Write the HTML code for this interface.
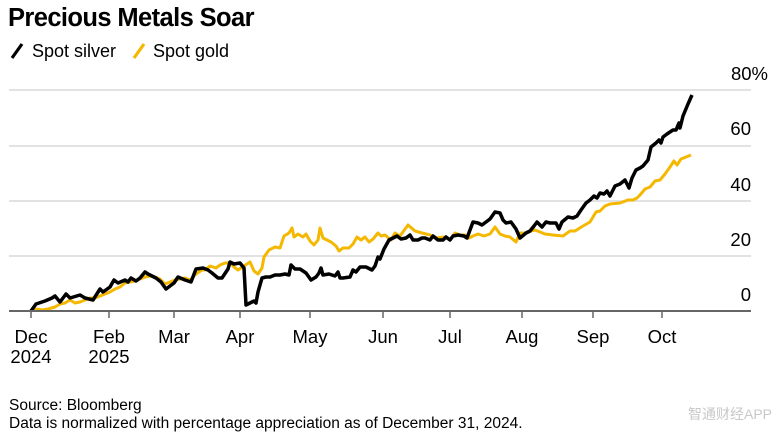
<!DOCTYPE html>
<html><head><meta charset="utf-8"><style>
body{margin:0;background:#fff;width:778px;height:437px;overflow:hidden;font-family:"Liberation Sans","Noto Sans CJK SC",sans-serif;}
svg text{font-family:"Liberation Sans","Noto Sans CJK SC",sans-serif;}
</style></head><body>
<svg width="778" height="437" viewBox="0 0 778 437" xmlns="http://www.w3.org/2000/svg">
<text x="8" y="26" font-size="25.5" font-weight="bold" fill="#000" letter-spacing="-0.6">Precious Metals Soar</text>
<line x1="12" y1="58" x2="22" y2="44" stroke="#000" stroke-width="3.2"/>
<text x="32" y="57" font-size="18" fill="#000">Spot silver</text>
<line x1="134" y1="58" x2="144" y2="44" stroke="#f5b800" stroke-width="3.2"/>
<text x="153" y="57" font-size="18" fill="#000">Spot gold</text>
<g stroke="#d8d8d8" stroke-width="1.5">
<line x1="9" y1="90" x2="751" y2="90"/><line x1="9" y1="146" x2="751" y2="146"/><line x1="9" y1="201" x2="751" y2="201"/><line x1="9" y1="256" x2="751" y2="256"/>
</g>
<g font-size="18.5" fill="#000" text-anchor="end">
<text x="768" y="80">80%</text><text x="751" y="135">60</text><text x="751" y="191">40</text><text x="751" y="246">20</text><text x="751" y="301">0</text>
</g>
<polyline fill="none" stroke="#f5b800" stroke-width="3" stroke-linejoin="round" points="31,311 37,309 42,310 48,309 55,307 60,304 65,303 70,300 75,303 80,302 85,300 90,298 95,298 100,296 105,294 110,292 115,289 120,287 125,283 130,282 135,281 140,279 145,277 150,276 155,277 160,279 165,284 170,282 175,280 180,279 185,278 190,280 196,274 202,270 205,270 210,266 216,268 220,265 225,263 230,263 234,267 238,270 244,266 250,262 254,271 258,274 262,268 264,257 269,250 275,247 280,248 284,236 289,233 292,228 294,237 298,234 303,237 306,234 310,241 314,245 318,240 320,228 323,238 327,240 331,242 336,246 339,251 343,248 349,248 353,244 357,237 361,240 365,237 369,242 373,239 378,233 381,236 385,235 391,240 395,233 400,236 408,225 415,231 422,233 430,235 435,238 445,237 450,240 455,233 460,235 465,235 469,238 473,236 478,234 484,236 490,234 495,227 500,234 505,236 510,237 516,242 520,233 526,233 531,231 535,230 540,232 545,234 553,235 563,236 570,231 575,231 583,226 590,222 596,212 600,211 605,206 610,204 620,203 628,200 633,200 637,198 640,195 645,189 650,187 655,181 660,180 665,174 670,167 674,161 677,165 681,159 686,157 691,155"/>
<polyline fill="none" stroke="#000" stroke-width="3.5" stroke-linejoin="round" points="31,311 36,304 45,301 52,298 55,296 60,302 66,294 70,298 80,295 85,298 93,300 100,289 103,292 110,287 114,280 118,283 125,280 128,282 131,278 136,281 140,278 145,272 148,274 152,276 156,278 161,282 166,289 174,283 178,277 185,280 191,282 196,269 203,268 208,270 212,273 218,278 222,278 228,269 230,262 234,264 240,263 244,268 246,305 250,303 254,301 256,303 258,292 262,278 266,277 270,277 275,275 280,275 285,274 289,275 291,265 295,269 300,269 306,273 311,280 316,277 319,273 321,268 323,275 329,274 335,276 338,272 340,278 343,278 350,277 353,270 356,272 360,267 366,267 372,270 375,266 378,257 380,259 384,249 389,240 393,238 397,236 401,239 406,238 410,235 413,240 418,240 422,238 425,238 430,240 433,236 438,240 443,240 446,237 450,240 453,236 458,235 464,236 467,238 470,230 473,222 478,223 482,225 486,222 490,219 495,212 500,213 503,220 506,223 511,222 516,229 520,238 526,233 530,231 534,226 537,222 542,227 546,222 550,223 556,223 559,229 562,222 568,217 573,218 577,216 581,210 586,203 590,200 594,196 597,198 600,193 604,194 607,191 610,196 615,186 620,184 625,180 629,188 632,178 636,170 640,168 643,166 648,160 651,147 656,143 659,140 661,143 663,137 667,134 670,132 673,130 676,130 679,123 680,128 683,116 688,104 692,95"/>
<line x1="9" y1="311" x2="751" y2="311" stroke="#666" stroke-width="2"/>
<g stroke="#666" stroke-width="1.5">
<line x1="31" y1="311" x2="31" y2="318"/><line x1="109" y1="311" x2="109" y2="318"/><line x1="174" y1="311" x2="174" y2="318"/><line x1="240" y1="311" x2="240" y2="318"/><line x1="310" y1="311" x2="310" y2="318"/><line x1="383" y1="311" x2="383" y2="318"/><line x1="450" y1="311" x2="450" y2="318"/><line x1="522" y1="311" x2="522" y2="318"/><line x1="593" y1="311" x2="593" y2="318"/><line x1="662" y1="311" x2="662" y2="318"/>
</g>
<g font-size="18.5" fill="#000" text-anchor="middle">
<text x="31" y="343">Dec</text><text x="31" y="363">2024</text>
<text x="109" y="343">Feb</text><text x="109" y="363">2025</text>
<text x="174" y="343">Mar</text><text x="240" y="343">Apr</text><text x="310" y="343">May</text><text x="383" y="343">Jun</text><text x="450" y="343">Jul</text><text x="522" y="343">Aug</text><text x="593" y="343">Sep</text><text x="662" y="343">Oct</text>
</g>
<text x="9" y="410" font-size="15.5" fill="#000">Source: Bloomberg</text>
<text x="9" y="428" font-size="15.5" fill="#000">Data is normalized with percentage appreciation as of December 31, 2024.</text>
<text x="772" y="419" font-size="14" fill="#c8c8c8" text-anchor="end">智通财经APP</text>
</svg>
</body></html>
